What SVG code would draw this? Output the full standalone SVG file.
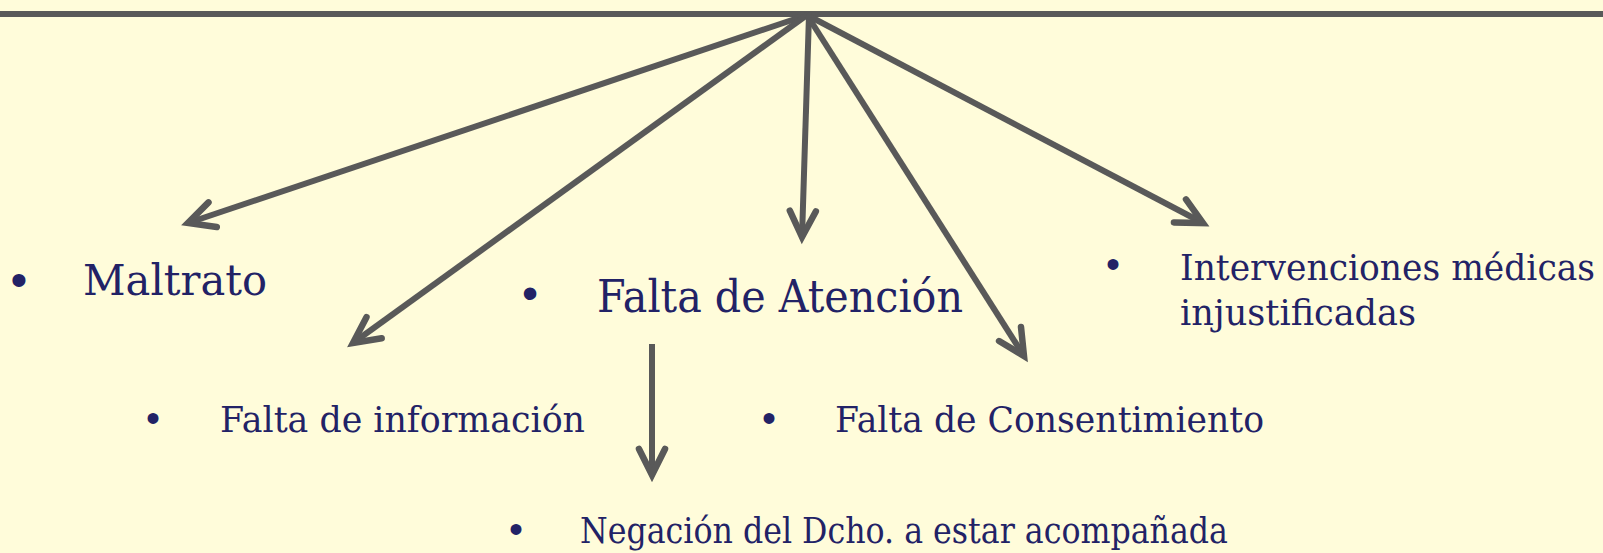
<svg xmlns="http://www.w3.org/2000/svg" width="1603" height="553" viewBox="0 0 1603 553">
<style>
.t{font-family:"DejaVu Serif","Liberation Serif",serif;fill:#222266}
.b{font-family:"Liberation Sans",Arial,sans-serif;fill:#222266;text-anchor:middle}
.c{stroke:#595959;stroke-width:6;fill:none}
.a{marker-end:url(#arr)}
</style>
<defs>
<marker id="arr" markerUnits="userSpaceOnUse" markerWidth="40" markerHeight="40" refX="0" refY="0" orient="auto" overflow="visible">
<path d="M-26,-13 L0,0 L-26,13" fill="none" stroke="#595959" stroke-width="6.5" stroke-linecap="round" stroke-linejoin="miter"/>
</marker>
</defs>
<rect width="1603" height="553" fill="#FFFCDA"/>
<g id="connectors">
<line class="c" x1="0" y1="14" x2="1603" y2="14"/>
<line class="c a" x1="807" y1="15" x2="188" y2="223"/>
<line class="c a" x1="807" y1="15" x2="353" y2="343"/>
<line class="c a" x1="809" y1="15" x2="802" y2="237"/>
<line class="c a" x1="807" y1="15" x2="1024" y2="356"/>
<line class="c a" x1="807" y1="15" x2="1203" y2="223"/>
<line class="c a" x1="652" y1="344" x2="652" y2="475"/>
</g>
<g id="maltrato">
<text class="b" x="19" y="296" font-size="48">•</text>
<text class="t" x="83" y="295" font-size="43" textLength="184" lengthAdjust="spacingAndGlyphs">Maltrato</text>
</g>
<g id="falta-atencion">
<text class="b" x="530" y="309" font-size="46">•</text>
<text class="t" x="597" y="312" font-size="44" textLength="366" lengthAdjust="spacingAndGlyphs">Falta de Atención</text>
</g>
<g id="intervenciones">
<text class="b" x="1113" y="278" font-size="40">•</text>
<text class="t" x="1180" y="280" font-size="35" textLength="415" lengthAdjust="spacingAndGlyphs">Intervenciones médicas</text>
<text class="t" x="1180" y="325" font-size="35" textLength="236" lengthAdjust="spacingAndGlyphs">injustificadas</text>
</g>
<g id="falta-informacion">
<text class="b" x="153" y="432" font-size="40">•</text>
<text class="t" x="220" y="432" font-size="35" textLength="365" lengthAdjust="spacingAndGlyphs">Falta de información</text>
</g>
<g id="falta-consentimiento">
<text class="b" x="769" y="432" font-size="40">•</text>
<text class="t" x="835" y="432" font-size="35" textLength="429" lengthAdjust="spacingAndGlyphs">Falta de Consentimiento</text>
</g>
<g id="negacion">
<text class="b" x="516" y="543" font-size="40">•</text>
<text class="t" x="580" y="543" font-size="35" textLength="648" lengthAdjust="spacingAndGlyphs">Negación del Dcho. a estar acompañada</text>
</g>
</svg>
